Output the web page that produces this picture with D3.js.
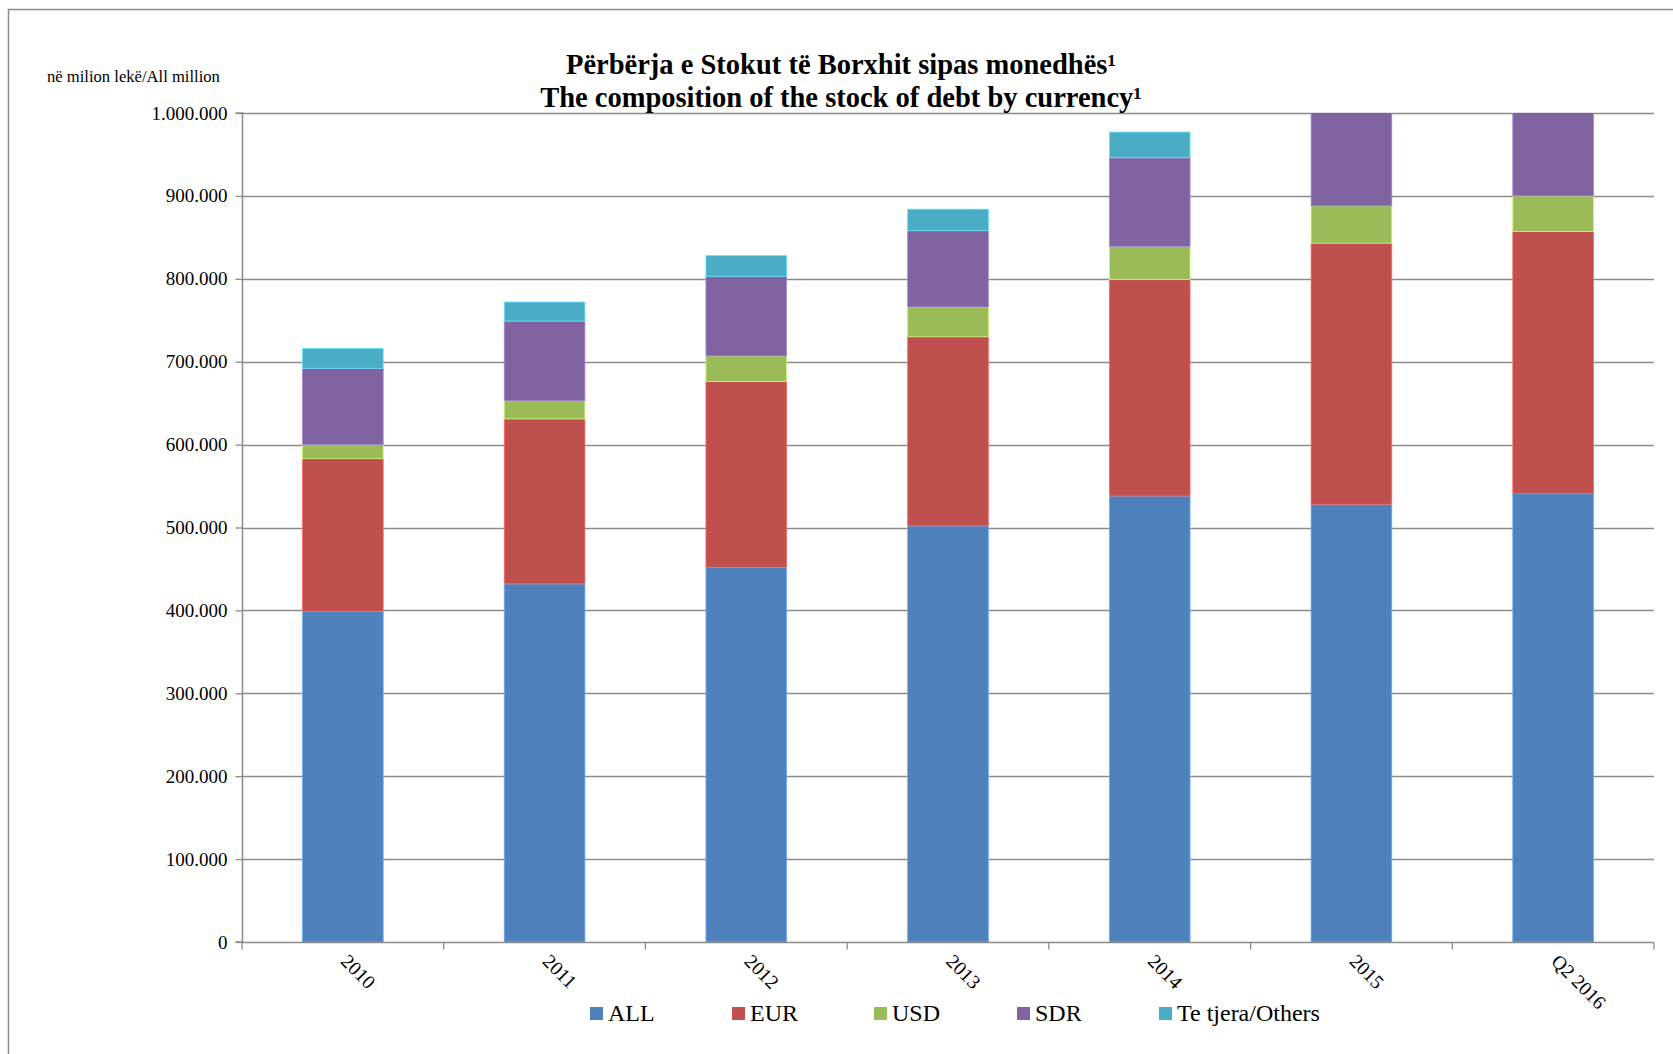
<!DOCTYPE html>
<html><head><meta charset="utf-8">
<script src="https://cdn.jsdelivr.net/npm/d3@7"></script>
<style>html,body{margin:0;padding:0;background:#fff;overflow:hidden}svg{display:block}</style>
</head><body>
<svg id="chart" width="1673" height="1054"></svg>
<script>
const categories = ["2010","2011","2012","2013","2014","2015","Q2 2016"];
const seriesNames = ["ALL","EUR","USD","SDR","Te tjera/Others"];
const ALL    = [399000, 432000, 452000, 502000, 538000, 528000, 541000];
const EUR    = [184000, 199000, 224000, 228000, 261000, 315000, 316000];
const USD    = [ 17000,  22000,  31000,  36000,  40000,  45000,  43000];
const SDR    = [ 92000,  96000,  96000,  92000, 107000, 120000, 130000];
const OTHERS = [ 24000,  23000,  25000,  26000,  31000,  30000,  30000];
const yTicks = [0,100000,200000,300000,400000,500000,600000,700000,800000,900000,1000000];
const colors = ["#4F81BD","#C0504D","#9BBB59","#8064A2","#4BACC6"];
const titleLines = ["Përbërja e Stokut të Borxhit sipas monedhës¹","The composition of the stock of debt by currency¹"];
const unitLabel = "në milion lekë/All million";

const seriesData = [ALL, EUR, USD, SDR, OTHERS];
const rows = categories.map((c,i)=>{const r={cat:c}; seriesNames.forEach((s,j)=>r[s]=seriesData[j][i]); return r;});
const stacked = d3.stack().keys(seriesNames)(rows);

const svg = d3.select("#chart");
const L=242, R=1654, T=113, B=942;
const font = "'Liberation Serif','Times New Roman',serif";

svg.append("rect").attr("x",8.5).attr("y",9.5).attr("width",1800).attr("height",1200)
  .attr("fill","none").attr("stroke","#8c8c8c").attr("stroke-width",1.5);

const x = d3.scaleBand().domain(categories).range([L,R]).paddingInner(0.6).paddingOuter(0.3);
const y = d3.scaleLinear().domain([0,1000000]).range([B,T]);
const fmt = d3.formatLocale({decimal:",",thousands:".",grouping:[3],currency:["",""]}).format(",");

// gridlines
svg.append("g").selectAll("line").data(yTicks.filter(d=>d>0)).join("line")
  .attr("x1",L).attr("x2",R).attr("y1",d=>Math.round(y(d))+0.5).attr("y2",d=>Math.round(y(d))+0.5)
  .attr("stroke","#8a8a8a").attr("stroke-width",1.3);

// bars
svg.append("defs").append("clipPath").attr("id","clip").append("rect")
  .attr("x",L).attr("y",T).attr("width",R-L).attr("height",B-T);
const gBars = svg.append("g").attr("clip-path","url(#clip)");
stacked.forEach((s,j)=>{
  gBars.append("g").selectAll("rect").data(s).join("rect")
    .attr("x",d=>x(d.data.cat)).attr("width",x.bandwidth())
    .attr("y",d=>y(d[1])).attr("height",d=>y(d[0])-y(d[1]))
    .attr("fill",colors[j]).attr("stroke",d3.color(colors[j]).brighter(0.8)).attr("stroke-width",0.8);
});

// y axis
const yAxis = svg.append("g").attr("transform",`translate(${L+0.5},0)`)
  .call(d3.axisLeft(y).tickValues(yTicks).tickFormat(d=>d===0?"0":fmt(d)).tickSize(7).tickPadding(8));
yAxis.select(".domain").attr("stroke","#8a8a8a").attr("stroke-width",1.5).attr("d",`M-7,${T}H0V${B}H-7`);
yAxis.selectAll(".tick line").attr("stroke","#8a8a8a").attr("stroke-width",1.3);
yAxis.selectAll("text").attr("font-family",font).attr("font-size",19).attr("fill","#000");

// x axis
const xg = svg.append("g").attr("transform",`translate(0,${B+0.5})`);
xg.append("line").attr("x1",L).attr("x2",R).attr("stroke","#8a8a8a").attr("stroke-width",1.5);
const bounds = d3.range(categories.length+1).map(i=>L+i*x.step());
xg.selectAll(".xt").data(bounds).join("line").attr("class","xt")
  .attr("x1",d=>d).attr("x2",d=>d).attr("y1",0).attr("y2",7).attr("stroke","#8a8a8a").attr("stroke-width",1.3);
xg.selectAll(".xl").data(categories).join("text").attr("class","xl")
  .attr("transform",d=>`translate(${x(d)+x.bandwidth()/2-3},${20}) rotate(45)`)
  .attr("font-family",font).attr("font-size",19.5).attr("fill","#000").text(d=>d);

// title
svg.append("text").attr("x",841).attr("y",74).attr("text-anchor","middle").attr("font-family",font)
  .attr("font-weight","bold").attr("font-size",28.5).text(titleLines[0]);
svg.append("text").attr("x",841).attr("y",107).attr("text-anchor","middle").attr("font-family",font)
  .attr("font-weight","bold").attr("font-size",28.5).text(titleLines[1]);

// unit label
svg.append("text").attr("x",47).attr("y",82).attr("font-family",font).attr("font-size",16.6).text(unitLabel);

// legend
const legX = [590,732,874,1017,1159];
const lg = svg.append("g");
seriesNames.forEach((s,j)=>{
  lg.append("rect").attr("x",legX[j]).attr("y",1007).attr("width",13).attr("height",13).attr("fill",colors[j]);
  lg.append("text").attr("x",legX[j]+18).attr("y",1021).attr("font-family",font).attr("font-size",24).text(s);
});
</script>
</body></html>
